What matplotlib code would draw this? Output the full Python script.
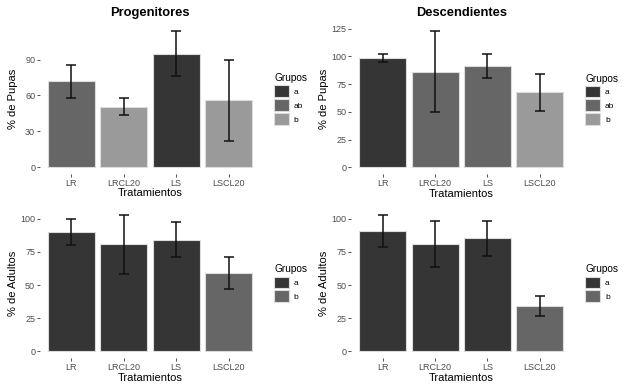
import matplotlib
matplotlib.use("Agg")
import matplotlib.pyplot as plt
from matplotlib.patches import Patch

plt.rcParams['font.family'] = ['Liberation Sans', 'DejaVu Sans']

tratamientos = ["LR", "LRCL20", "LS", "LSCL20"]

prog_pupas = [71.8, 50.6, 94.9, 55.9]
prog_pupas_err = [13.7, 7.2, 18.9, 33.8]
prog_pupas_grp = ["ab", "b", "a", "b"]

desc_pupas = [98.5, 86.3, 91.3, 67.5]
desc_pupas_err = [3.6, 36.3, 10.8, 16.6]
desc_pupas_grp = ["a", "ab", "ab", "b"]

prog_adultos = [90.0, 80.7, 84.3, 59.3]
prog_adultos_err = [9.8, 22.0, 13.3, 12.0]
prog_adultos_grp = ["a", "a", "a", "b"]

desc_adultos = [90.6, 81.1, 85.4, 34.4]
desc_adultos_err = [12.1, 17.5, 13.2, 7.7]
desc_adultos_grp = ["a", "a", "a", "b"]

pal3 = {"a": "#353535", "ab": "#666666", "b": "#9a9a9a"}
pal2 = {"a": "#353535", "b": "#666666"}

W, H = 626, 388
fig = plt.figure(figsize=(W / 100, H / 100), dpi=100)


def axpos(l, r, t, b):
    return [l / W, 1 - b / H, (r - l) / W, (b - t) / H]


panels = [
    (axpos(40, 260, 24.5, 173.8), prog_pupas, prog_pupas_err, prog_pupas_grp, pal3,
     "% de Pupas", "Progenitores", [0, 30, 60, 90]),
    (axpos(351.3, 571.2, 24.6, 174.1), desc_pupas, desc_pupas_err, desc_pupas_grp, pal3,
     "% de Pupas", "Descendientes", [0, 25, 50, 75, 100, 125]),
    (axpos(40, 260, 208.5, 358.1), prog_adultos, prog_adultos_err, prog_adultos_grp, pal2,
     "% de Adultos", None, [0, 25, 50, 75, 100]),
    (axpos(351.3, 571.2, 208.5, 358.1), desc_adultos, desc_adultos_err, desc_adultos_grp, pal2,
     "% de Adultos", None, [0, 25, 50, 75, 100]),
]

for pos, vals, errs, grps, pal, ylab, title, yticks in panels:
    ax = fig.add_axes(pos)
    x = list(range(1, len(tratamientos) + 1))
    colors = [pal[g] for g in grps]
    ax.bar(x, vals, width=0.9, color=colors, edgecolor="#dcdcdc", linewidth=0.8, zorder=2)
    ax.errorbar(x, vals, yerr=errs, fmt="none", ecolor="#111111", elinewidth=1.1,
                capsize=3.8, capthick=1.1, zorder=3)
    top = max(v + e for v, e in zip(vals, errs))
    ax.set_ylim(-0.05 * top, 1.05 * top)
    ax.set_xlim(0.4, len(tratamientos) + 0.6)
    ax.set_xticks(x)
    ax.set_xticklabels(tratamientos)
    ax.set_yticks(yticks)
    for s in ax.spines.values():
        s.set_visible(False)
    ax.tick_params(axis="both", length=2, width=0.6, color="#333333", labelsize=6.5,
                   labelcolor="#4d4d4d", pad=1.5)
    ax.set_ylabel(ylab, fontsize=8)
    ax.yaxis.set_label_coords(-0.101, 0.5)
    ax.set_xlabel("Tratamientos", fontsize=8)
    ax.xaxis.set_label_coords(0.5, -0.098)
    if title:
        ax.set_title(title, fontsize=9.3, fontweight="bold", pad=6)
    handles = [Patch(facecolor=pal[g], edgecolor="#dcdcdc", linewidth=0.8, label=g) for g in pal]
    leg = ax.legend(handles=handles, title="Grupos", loc="center left",
                    bbox_to_anchor=(1.065, 0.5), frameon=False, fontsize=6,
                    title_fontsize=7.3, handlelength=1.8, handleheight=1.8,
                    labelspacing=0.25, handletextpad=0.55, borderpad=0, borderaxespad=0)
    leg._legend_box.align = "left"

fig.savefig("out.png", dpi=100, facecolor="white")
